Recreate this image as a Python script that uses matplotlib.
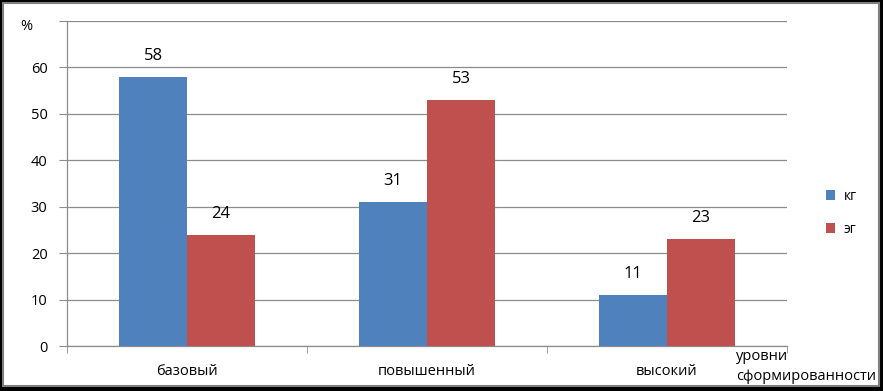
import matplotlib
matplotlib.use('Agg')
import matplotlib.pyplot as plt
from matplotlib.patches import Rectangle
import numpy as np

plt.rcParams['font.family'] = ['Open Sans', 'DejaVu Sans']

# данные
categories = ['базовый', 'повышенный', 'высокий']
kg_values = [58, 31, 11]
eg_values = [24, 53, 23]
series_names = ['кг', 'эг']
yticks = [0, 10, 20, 30, 40, 50, 60, 70]

blue = '#4F81BD'
red = '#C0504D'
grid_col = '#8c8c8c'

fig = plt.figure(figsize=(8.83, 3.91), dpi=100, facecolor='black')
# white chart area with grey border
fig.patches.append(Rectangle((3 / 883, 5 / 391), 876 / 883, 383 / 391,
                             transform=fig.transFigure, facecolor='white',
                             edgecolor='#7f7f7f', linewidth=1.5, zorder=-5))

ax = fig.add_axes([67 / 883, 45 / 391, 720 / 883, 325 / 391])
ax.set_zorder(2)
ax.set_facecolor('none')

x = np.arange(len(categories))
w = 0.283
b1 = ax.bar(x - w / 2, kg_values, w, color=blue, label=series_names[0], zorder=3)
b2 = ax.bar(x + w / 2, eg_values, w, color=red, label=series_names[1], zorder=3)

for bars, vals in ((b1, kg_values), (b2, eg_values)):
    for r, v in zip(bars, vals):
        ax.annotate(str(v), (r.get_x() + r.get_width() / 2, v),
                    xytext=(0, 15), textcoords='offset points',
                    ha='center', va='center', fontsize=12)

ax.set_xlim(-0.5, 2.5)
ax.set_ylim(0, 70)
ax.set_yticks(yticks)
ax.set_yticklabels([str(t) if t < 70 else '' for t in yticks], fontsize=10.5)
ax.yaxis.grid(True, color=grid_col, linewidth=0.9, zorder=0)
ax.tick_params(axis='y', length=6, color=grid_col, pad=8)

ax.set_xticks(x)
ax.set_xticklabels(categories, fontsize=10.5)
ax.set_xticks([-0.5, 0.5, 1.5, 2.5], minor=True)
ax.tick_params(axis='x', which='major', length=0, pad=13)
ax.tick_params(axis='x', which='minor', length=5, color=grid_col)

for s in ['top', 'right']:
    ax.spines[s].set_visible(False)
for s in ['left', 'bottom']:
    ax.spines[s].set_color(grid_col)
    ax.spines[s].set_linewidth(0.9)

fig.text(20 / 883, 1 - 27 / 391, '%', fontsize=10.5, va='center')
fig.text(736 / 883, 1 - 357 / 391, 'уровни', fontsize=10.5, va='center')
fig.text(736 / 883, 1 - 377 / 391, 'сформированности', fontsize=10.5, va='center')

ax.legend(loc='center left', bbox_to_anchor=(813 / 883, 1 - 213 / 391),
          bbox_transform=fig.transFigure, frameon=False, fontsize=10,
          handlelength=0.7, handleheight=0.7, labelspacing=1.3,
          handletextpad=0.6)

fig.savefig('out.png', dpi=100, facecolor=fig.get_facecolor())
